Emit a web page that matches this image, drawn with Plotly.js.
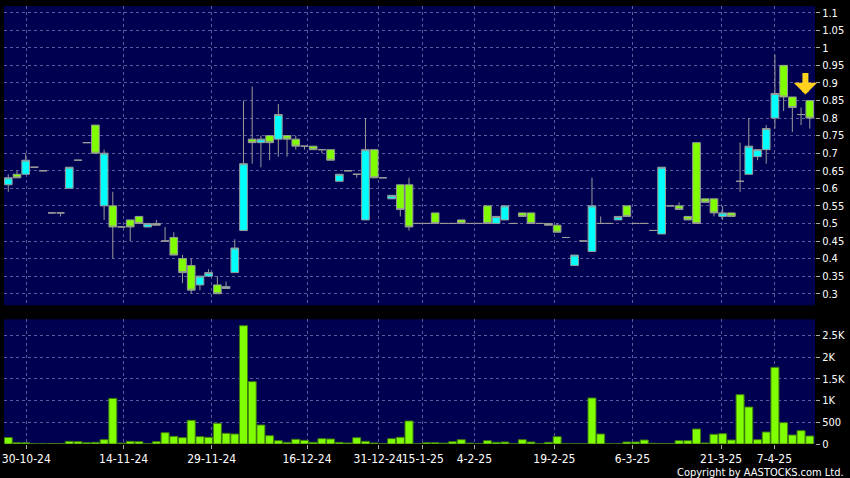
<!DOCTYPE html>
<html>
<head>
<meta charset="utf-8">
<script src="https://cdn.plot.ly/plotly-3.0.1.min.js"></script>
<style>
html,body{margin:0;padding:0;background:#000;}
#chart{width:850px;height:478px;}
</style>
</head>
<body>
<div id="chart"></div>
<script>
// Daily prices (one candle per trading day with trades)
const openP  = [0.61,0.64,0.64,0.66,0.65,0.53,0.53,0.60,0.68,0.73,
                0.78,0.55,0.55,0.49,0.51,0.52,0.49,0.50,0.45,0.46,
                0.40,0.38,0.325,0.35,0.325,0.315,0.36,0.48,0.74,0.73,
                0.75,0.74,0.75,0.74,0.72,0.72,0.71,0.71,0.62,0.65,
                0.64,0.51,0.71,0.63,0.57,0.61,0.61,0.50,0.50,0.53,
                0.50,0.50,0.51,0.50,0.50,0.55,0.50,0.51,0.50,0.53,
                0.53,0.50,0.50,0.495,0.46,0.38,0.45,0.42,0.50,0.50,
                0.51,0.55,0.50,0.50,0.48,0.47,0.55,0.55,0.52,0.73,
                0.57,0.57,0.52,0.53,0.62,0.64,0.69,0.71,0.80,0.95,
                0.86,0.81,0.85];
const highP  = [0.64,0.65,0.70,0.66,0.65,0.53,0.53,0.66,0.68,0.73,
                0.78,0.71,0.59,0.49,0.51,0.52,0.50,0.51,0.49,0.475,
                0.41,0.40,0.35,0.37,0.35,0.335,0.455,0.85,0.89,0.75,
                0.75,0.84,0.75,0.75,0.72,0.72,0.71,0.71,0.64,0.65,
                0.64,0.80,0.71,0.63,0.58,0.61,0.63,0.50,0.50,0.53,
                0.50,0.50,0.51,0.50,0.50,0.55,0.52,0.55,0.50,0.53,
                0.53,0.50,0.50,0.50,0.46,0.41,0.45,0.63,0.52,0.50,
                0.52,0.55,0.50,0.50,0.48,0.66,0.55,0.56,0.52,0.73,
                0.57,0.57,0.55,0.53,0.73,0.80,0.71,0.78,0.98,0.95,
                0.86,0.83,0.85];
const lowP   = [0.59,0.63,0.64,0.66,0.65,0.53,0.52,0.60,0.68,0.73,
                0.70,0.51,0.40,0.49,0.45,0.50,0.49,0.495,0.45,0.41,
                0.33,0.30,0.31,0.35,0.30,0.315,0.36,0.48,0.67,0.66,
                0.68,0.69,0.69,0.71,0.71,0.71,0.70,0.68,0.62,0.65,
                0.63,0.51,0.63,0.63,0.57,0.52,0.48,0.50,0.50,0.50,
                0.50,0.50,0.50,0.50,0.50,0.50,0.50,0.51,0.50,0.52,
                0.50,0.50,0.495,0.475,0.46,0.38,0.45,0.42,0.50,0.50,
                0.51,0.52,0.50,0.50,0.48,0.47,0.55,0.54,0.51,0.50,
                0.56,0.52,0.51,0.52,0.59,0.64,0.68,0.67,0.77,0.82,
                0.76,0.78,0.77];
const closeP = [0.63,0.63,0.68,0.66,0.65,0.53,0.53,0.66,0.68,0.73,
                0.70,0.70,0.49,0.49,0.49,0.50,0.50,0.495,0.45,0.41,
                0.36,0.31,0.35,0.36,0.30,0.32,0.43,0.67,0.73,0.74,
                0.73,0.81,0.74,0.72,0.72,0.71,0.71,0.68,0.64,0.65,
                0.64,0.71,0.63,0.63,0.58,0.54,0.49,0.50,0.50,0.50,
                0.50,0.50,0.50,0.50,0.50,0.50,0.52,0.55,0.50,0.52,
                0.50,0.50,0.495,0.475,0.46,0.41,0.45,0.55,0.50,0.50,
                0.52,0.52,0.50,0.50,0.48,0.66,0.55,0.54,0.51,0.50,
                0.56,0.53,0.53,0.52,0.62,0.72,0.71,0.77,0.87,0.86,
                0.83,0.81,0.80];
// Volume in thousands of shares
const volume = [150,30,30,5,5,10,10,61,54,30,
                38,100,1050,20,61,54,5,54,260,177,
                146,545,169,154,476,246,230,2726,1436,438,
                192,77,38,108,84,38,123,115,38,23,
                146,61,23,5,123,154,530,5,30,30,
                20,54,100,20,5,77,38,46,5,100,
                46,5,38,169,3,3,3,1060,230,3,
                3,46,46,92,15,10,8,77,77,345,
                23,223,238,92,1137,852,100,276,1766,492,
                207,307,184];

const dateTickPos  = [2.07,13.24,23.35,34.29,42.45,47.58,53.5,62.69,71.64,81.82,87.94];
const dateTickText = ['30-10-24','14-11-24','29-11-24','16-12-24','31-12-24','15-1-25','4-2-25','19-2-25','6-3-25','21-3-25','7-4-25'];
const priceTickVals = [0.3,0.35,0.4,0.45,0.5,0.55,0.6,0.65,0.7,0.75,0.8,0.85,0.9,0.95,1,1.05,1.1];
const priceTickText = ['0.3','0.35','0.4','0.45','0.5','0.55','0.6','0.65','0.7','0.75','0.8','0.85','0.9','0.95','1','1.05','1.1'];
const volTickVals = [0,500,1000,1500,2000,2500];
const volTickText = ['0','500','1K','1.5K','2K','2.5K'];
const arrowIndex = 91.5;
const arrowPrice = 0.867;

const idx = openP.map((_, i) => i);

const FONT = 'DejaVu Sans Condensed, DejaVu Sans, sans-serif';
const GRID = '#5c5c9c';
const CYAN = '#00FFFF';
const LIME = '#80FF00';
const WICK = '#9a9a9a';

const candles = {
  type: 'candlestick',
  x: idx, open: openP, high: highP, low: lowP, close: closeP,
  xaxis: 'x', yaxis: 'y',
  increasing: {line: {color: WICK, width: 1}, fillcolor: CYAN},
  decreasing: {line: {color: WICK, width: 1}, fillcolor: LIME},
  whiskerwidth: 0,
  hoverinfo: 'skip'
};
const vols = {
  type: 'bar',
  x: idx, y: volume,
  xaxis: 'x2', yaxis: 'y2',
  marker: {color: LIME, line: {color: '#3f7a10', width: 1}},
  hoverinfo: 'skip'
};

const xRange = [-0.49, 92.6];
const commonX = {
  range: xRange, tickmode: 'array', tickvals: dateTickPos, tickangle: 0,
  showgrid: true, gridcolor: GRID, griddash: '3px,3px', gridwidth: 1,
  zeroline: false, showline: false, fixedrange: true
};

const layout = {
  width: 850, height: 478,
  margin: {l: 4, r: 35, t: 5.7, b: 34.3, pad: 0},
  paper_bgcolor: '#000000',
  plot_bgcolor: '#000050',
  showlegend: false,
  boxgap: 0.12, boxgroupgap: 0,
  bargap: 0.08,
  xaxis: Object.assign({}, commonX, {
    domain: [0, 1], anchor: 'y', showticklabels: false, ticks: '',
    rangeslider: {visible: false}
  }),
  xaxis2: Object.assign({}, commonX, {
    domain: [0, 1], anchor: 'y2', ticktext: dateTickText, showticklabels: true,
    ticks: 'outside', ticklen: 4, tickcolor: '#aaaaaa', tickwidth: 1,
    tickfont: {family: FONT, size: 12, color: '#ffffff'}
  }),
  yaxis: {
    domain: [0.3167, 1], range: [0.267, 1.119], side: 'right', anchor: 'x',
    tickmode: 'array', tickvals: priceTickVals, ticktext: priceTickText,
    ticks: 'outside', ticklen: 4, tickcolor: '#aaaaaa',
    tickfont: {family: FONT, size: 11, color: '#ffffff'},
    showgrid: true, gridcolor: GRID, griddash: '3px,3px', gridwidth: 1,
    zeroline: false, showline: false, fixedrange: true
  },
  yaxis2: {
    domain: [0, 0.2847], range: [0, 2873], side: 'right', anchor: 'x2',
    tickmode: 'array', tickvals: volTickVals, ticktext: volTickText,
    ticks: 'outside', ticklen: 4, tickcolor: '#aaaaaa',
    tickfont: {family: FONT, size: 11, color: '#ffffff'},
    showgrid: true, gridcolor: GRID, griddash: '3px,3px', gridwidth: 1,
    zeroline: false, showline: false, fixedrange: true
  },
  annotations: [
    {x: arrowIndex, y: arrowPrice, xref: 'x', yref: 'y', text: '',
     showarrow: true, ax: 0, ay: -23, arrowhead: 1, arrowsize: 0.65,
     arrowwidth: 6, arrowcolor: '#FFD21E'},
    {x: 1.038, y: -0.064, xref: 'paper', yref: 'paper', xanchor: 'right', yanchor: 'middle',
     text: 'Copyright by AASTOCKS.com Ltd.', showarrow: false,
     font: {family: FONT, size: 11, color: '#ffffff'}}
  ]
};

Plotly.newPlot('chart', [candles, vols], layout, {displayModeBar: false, staticPlot: true});
</script>
</body>
</html>
